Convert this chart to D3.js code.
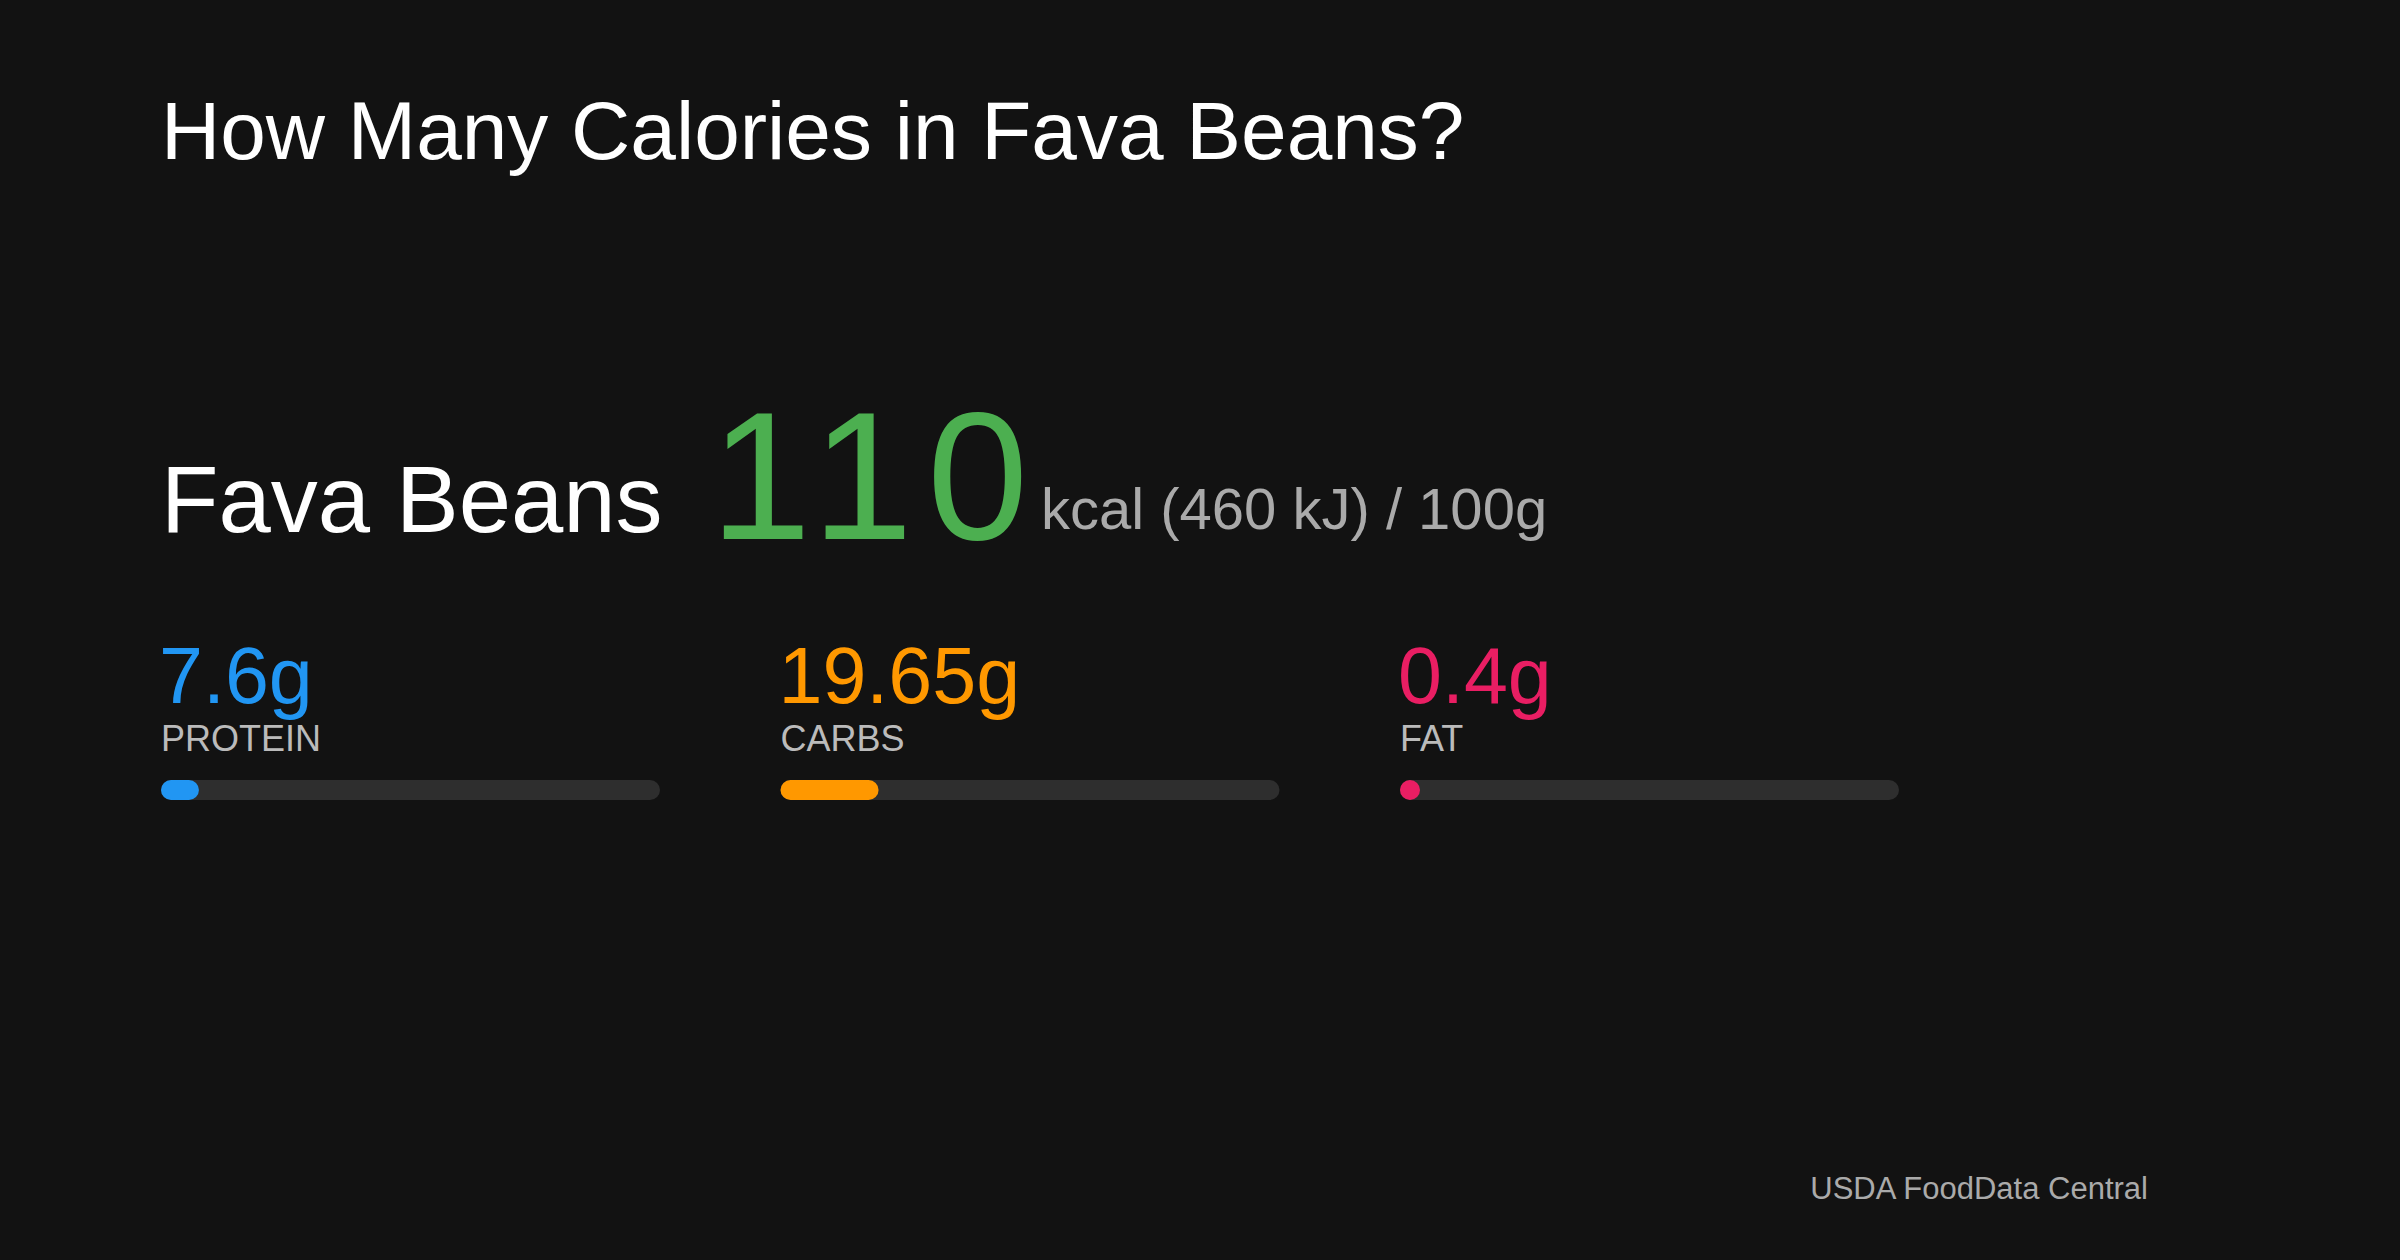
<!DOCTYPE html>
<html><head><meta charset="utf-8">
<script src="https://cdn.jsdelivr.net/npm/d3@7"></script>
<style>html,body{margin:0;background:#121212;}svg{display:block;}</style>
</head><body>
<svg id="c" width="2400" height="1260"></svg>
<script>
const title = "How Many Calories in Fava Beans?";
const foodName = "Fava Beans";
const kcal = 110;
const energyLabel = "kcal (460 kJ) / 100g";
const nutrients = ["PROTEIN", "CARBS", "FAT"];
const grams = [7.6, 19.65, 0.4];
const gramLabels = ["7.6g", "19.65g", "0.4g"];
const colors = ["#2196f3", "#ff9800", "#e91e63"];
const source = "USDA FoodData Central";

const svg = d3.select("#c");
const F = "'Liberation Sans', Arial, Helvetica, sans-serif";
svg.append("rect").attr("width",2400).attr("height",1260).attr("fill","#121212");
svg.append("text").attr("x",161).attr("y",159).attr("font-family",F).attr("font-size",82).attr("fill","#fff").text(title);
svg.append("text").attr("x",161).attr("y",532).attr("font-family",F).attr("font-size",94).attr("fill","#fff").text(foodName);
svg.append("text").attr("x",710).attr("y",539).attr("font-family",F).attr("font-size",182).attr("letter-spacing",14).attr("fill","#4caf50").text(kcal);
svg.append("text").attr("x",1041).attr("y",529).attr("font-family",F).attr("font-size",58).attr("fill","#aaaaaa").text(energyLabel);

const xCol = d3.scalePoint().domain(nutrients).range([161,1400]);
const barW = 499, barH = 20;
const w = d3.scaleLinear().domain([0,100]).range([0,barW]);
nutrients.forEach((n,i)=>{
  const x0 = xCol(n);
  svg.append("text").attr("x",x0-2).attr("y",703).attr("font-family",F).attr("font-size",79).attr("fill",colors[i]).text(gramLabels[i]);
  svg.append("text").attr("x",x0).attr("y",751).attr("font-family",F).attr("font-size",36).attr("fill","#bbbbbb").text(n);
  svg.append("rect").attr("x",x0).attr("y",780).attr("width",barW).attr("height",barH).attr("rx",barH/2).attr("fill","#2e2e2e");
  svg.append("rect").attr("x",x0).attr("y",780).attr("width",Math.max(w(grams[i]),barH)).attr("height",barH).attr("rx",barH/2).attr("fill",colors[i]);
});
svg.append("text").attr("x",2148).attr("y",1199).attr("text-anchor","end").attr("font-family",F).attr("font-size",31).attr("fill","#aaaaaa").text(source);
</script>
</body></html>
